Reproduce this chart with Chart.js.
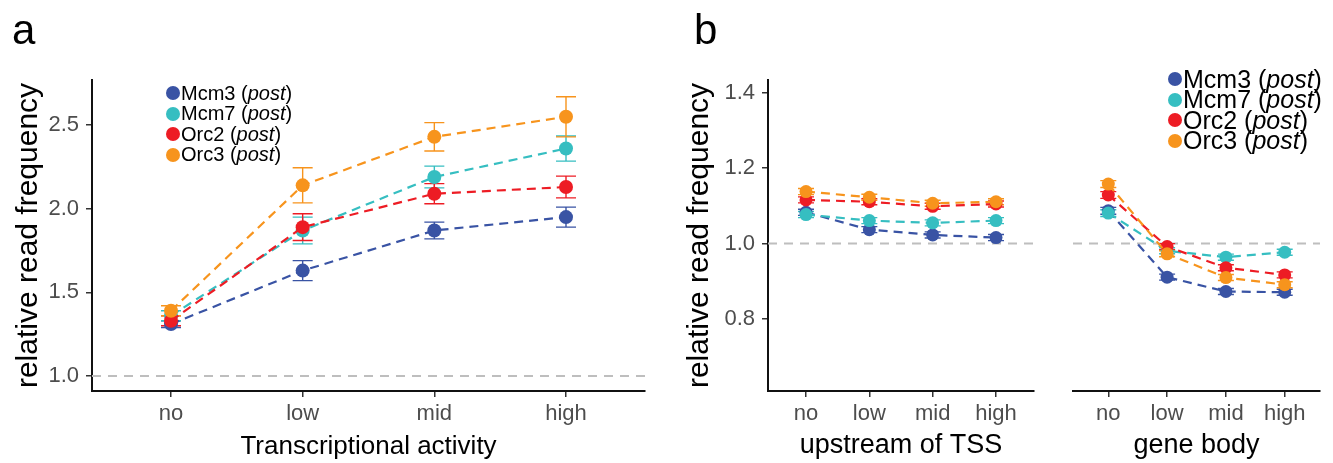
<!DOCTYPE html>
<html>
<head>
<meta charset="utf-8">
<script src="https://cdn.jsdelivr.net/npm/chart.js@4.4.0/dist/chart.umd.min.js"></script>
<style>
  body { margin: 0; background: #fff; font-family: "Liberation Sans", Arial, sans-serif; }
  #wrap { position: relative; width: 1333px; height: 463px; overflow: hidden; }
  #wrap canvas { position: absolute; left: 0; top: 0; }
  .panel { position: absolute; font-size: 42px; color: #000; line-height: 1; }
  .legend { position: absolute; color: #000; }
  .legend .row { display: flex; align-items: center; white-space: nowrap; }
  .legend .dot { display: inline-block; border-radius: 50%; margin-right: 1px; }
</style>
</head>
<body>
<div id="wrap">
  <canvas id="chartA" width="1333" height="463"></canvas>
  <canvas id="chartTss" width="1333" height="463"></canvas>
  <canvas id="chartBody" width="1333" height="463"></canvas>
  <div class="panel" style="left:12px;top:9px;">a</div>
  <div class="panel" style="left:694px;top:9px;">b</div>
  <div class="legend" id="legendA" style="left:166px;top:83px;font-size:20px;"></div>
  <div class="legend" id="legendB" style="left:1168px;top:69px;font-size:25px;"></div>
</div>
<script>
// categories et series
const categories = ['no', 'low', 'mid', 'high'];
const seriesNames = ['Mcm3', 'Mcm7', 'Orc2', 'Orc3'];
const seriesColors = ['#3953a4', '#36bec1', '#ed1c24', '#f7941d'];

// panel a : Transcriptional activity
const actMcm3 = [1.31, 1.63, 1.87, 1.95];
const actMcm7 = [1.36, 1.87, 2.19, 2.36];
const actOrc2 = [1.33, 1.89, 2.09, 2.13];
const actOrc3 = [1.39, 2.14, 2.43, 2.55];
const actMcm3Err = [0.02, 0.06, 0.05, 0.06];
const actMcm7Err = [0.03, 0.08, 0.065, 0.075];
const actOrc2Err = [0.03, 0.08, 0.06, 0.065];
const actOrc3Err = [0.03, 0.105, 0.085, 0.12];

// panel b : upstream of TSS
const tssMcm3 = [1.083, 1.037, 1.023, 1.016];
const tssMcm7 = [1.077, 1.061, 1.055, 1.061];
const tssOrc2 = [1.116, 1.111, 1.099, 1.105];
const tssOrc3 = [1.138, 1.123, 1.107, 1.111];
const tssErr = [0.008, 0.008, 0.008, 0.008];

// panel b : gene body
const bodyMcm3 = [1.087, 0.911, 0.873, 0.871];
const bodyMcm7 = [1.081, 0.981, 0.964, 0.977];
const bodyOrc2 = [1.129, 0.992, 0.936, 0.917];
const bodyOrc3 = [1.158, 0.973, 0.910, 0.891];
const bodyErr = [0.009, 0.008, 0.008, 0.008];

// axes
const yTicksA = [1.0, 1.5, 2.0, 2.5];
const yRangeA = [0.91, 2.77];
const yTicksB = [0.8, 1.0, 1.2, 1.4];
const yRangeB = [0.609, 1.434];
const refLine = 1.0;

// ligne de reference pointillee grise
const refLinePlugin = {
  id: 'refLine',
  beforeDatasetsDraw(chart) {
    const {ctx, chartArea, scales: {y}} = chart;
    const py = y.getPixelForValue(refLine);
    ctx.save();
    ctx.strokeStyle = '#bebebe';
    ctx.lineWidth = 2;
    ctx.setLineDash([9, 7]);
    ctx.beginPath();
    ctx.moveTo(chartArea.left, py);
    ctx.lineTo(chartArea.right, py);
    ctx.stroke();
    ctx.restore();
  }
};

// barres d'erreur
const errorBarPlugin = {
  id: 'errorBars',
  beforeDatasetsDraw(chart) {
    const {ctx, scales: {x, y}} = chart;
    const cap = chart.options.plugins.errorBars.cap;
    chart.data.datasets.forEach(ds => {
      ctx.save();
      ctx.strokeStyle = ds.borderColor;
      ctx.lineWidth = 1.4;
      ds.data.forEach((p, j) => {
        const px = x.getPixelForValue(p.x);
        const top = y.getPixelForValue(p.y + ds.err[j]);
        const bot = y.getPixelForValue(p.y - ds.err[j]);
        ctx.beginPath();
        ctx.moveTo(px, top); ctx.lineTo(px, bot);
        ctx.moveTo(px - cap, top); ctx.lineTo(px + cap, top);
        ctx.moveTo(px - cap, bot); ctx.lineTo(px + cap, bot);
        ctx.stroke();
      });
      ctx.restore();
    });
  }
};

function makeDatasets(values, errors, radius) {
  return values.map((vals, i) => ({
    label: seriesNames[i],
    data: vals.map((v, j) => ({x: j, y: v})),
    err: errors[i],
    borderColor: seriesColors[i],
    backgroundColor: seriesColors[i],
    pointBackgroundColor: seriesColors[i],
    pointBorderWidth: 0,
    pointRadius: radius,
    borderWidth: 2.2,
    borderDash: [9, 6],
    order: values.length - i,
    tension: 0
  }));
}

function makeChart(id, opts) {
  const tickFont = {family: '"Liberation Sans", Arial, sans-serif', size: 22};
  new Chart(document.getElementById(id), {
    type: 'line',
    data: {datasets: makeDatasets(opts.values, opts.errors, opts.radius)},
    options: {
      responsive: false,
      animation: false,
      devicePixelRatio: 1,
      layout: {padding: opts.padding},
      plugins: {
        legend: {display: false},
        tooltip: {enabled: false},
        errorBars: {cap: opts.cap}
      },
      scales: {
        x: {
          type: 'linear',
          min: -0.6,
          max: 3.6,
          afterBuildTicks: s => { s.ticks = categories.map((c, i) => ({value: i})); },
          afterFit: s => { s.height = 72; },
          ticks: {
            callback: v => categories[v],
            color: '#4d4d4d',
            font: tickFont,
            padding: 4,
            maxRotation: 0
          },
          grid: {drawOnChartArea: false, drawTicks: true, tickLength: 6, color: '#333', lineWidth: 1.5},
          border: {display: true, color: '#111', width: 2},
          title: {
            display: true,
            text: opts.xTitle,
            color: '#000',
            font: {family: '"Liberation Sans", Arial, sans-serif', size: opts.xTitleSize},
            padding: {top: 0, bottom: 1}
          }
        },
        y: {
          display: opts.showY,
          min: opts.yRange[0],
          max: opts.yRange[1],
          afterBuildTicks: s => { s.ticks = opts.yTicks.map(v => ({value: v})); },
          afterFit: s => { s.width = opts.yWidth; },
          ticks: {
            callback: v => v.toFixed(1),
            color: '#4d4d4d',
            font: tickFont,
            padding: 7
          },
          grid: {drawOnChartArea: false, drawTicks: true, tickLength: 6, color: '#333', lineWidth: 1.5},
          border: {display: true, color: '#111', width: 2},
          title: {
            display: true,
            text: 'relative read frequency',
            color: '#000',
            font: {family: '"Liberation Sans", Arial, sans-serif', size: 30},
            padding: {top: opts.yTitlePad, bottom: 0}
          }
        }
      }
    },
    plugins: [refLinePlugin, errorBarPlugin]
  });
}

makeChart('chartA', {
  values: [actMcm3, actMcm7, actOrc2, actOrc3],
  errors: [actMcm3Err, actMcm7Err, actOrc2Err, actOrc3Err],
  radius: 7, cap: 10,
  padding: {left: 0, top: 80, right: 688, bottom: 0},
  yWidth: 92, yTitlePad: 11, showY: true,
  yRange: yRangeA, yTicks: yTicksA,
  xTitle: 'Transcriptional activity', xTitleSize: 26
});

makeChart('chartTss', {
  values: [tssMcm3, tssMcm7, tssOrc2, tssOrc3],
  errors: [tssErr, tssErr, tssErr, tssErr],
  radius: 6.5, cap: 8,
  padding: {left: 670, top: 80, right: 299, bottom: 0},
  yWidth: 98, yTitlePad: 12, showY: true,
  yRange: yRangeB, yTicks: yTicksB,
  xTitle: 'upstream of TSS', xTitleSize: 27
});

makeChart('chartBody', {
  values: [bodyMcm3, bodyMcm7, bodyOrc2, bodyOrc3],
  errors: [bodyErr, bodyErr, bodyErr, bodyErr],
  radius: 6.5, cap: 8,
  padding: {left: 1073, top: 80, right: 13, bottom: 0},
  yWidth: 0, yTitlePad: 0, showY: false,
  yRange: yRangeB, yTicks: yTicksB,
  xTitle: 'gene body', xTitleSize: 27
});

// legendes HTML (post en italique)
function buildLegend(id, dotSize, rowHeight) {
  const el = document.getElementById(id);
  seriesNames.forEach((name, i) => {
    const row = document.createElement('div');
    row.className = 'row';
    row.style.height = rowHeight + 'px';
    row.innerHTML = '<span class="dot" style="width:' + dotSize + 'px;height:' + dotSize +
      'px;background:' + seriesColors[i] + '"></span>' + name + '&nbsp;(<i>post</i>)';
    el.appendChild(row);
  });
}
buildLegend('legendA', 14, 20.5);
buildLegend('legendB', 14, 20.5);
</script>
</body>
</html>
